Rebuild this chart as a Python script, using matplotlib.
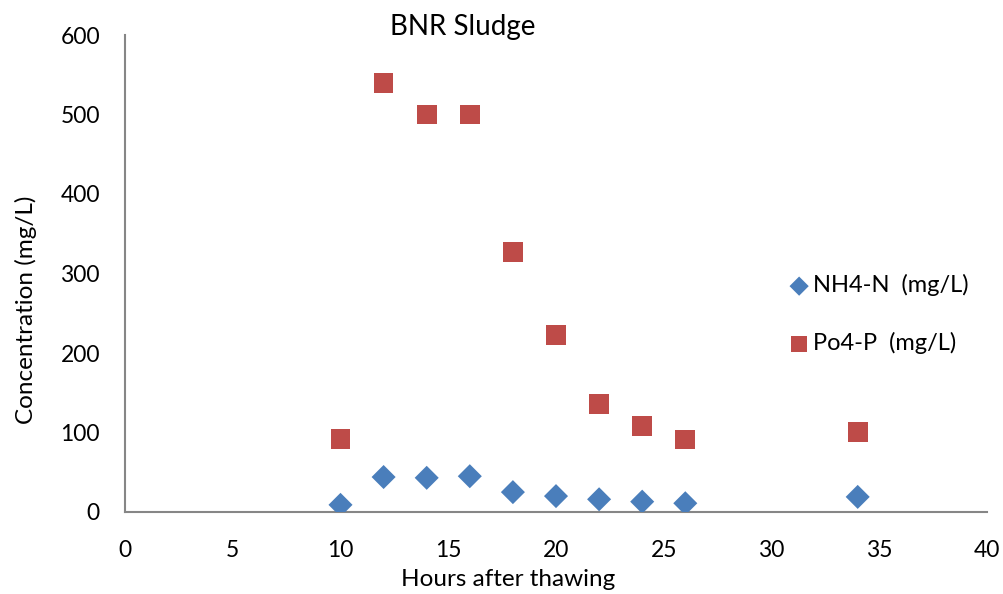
import matplotlib
matplotlib.use('Agg')
import matplotlib.pyplot as plt

plt.rcParams['font.family'] = ['Lato', 'DejaVu Sans']

# 解冻后时间 (h)
hours = [10, 12, 14, 16, 18, 20, 22, 24, 26, 34]
nh4_n = [9, 44, 43, 45, 25, 20, 16, 13, 11, 19]
po4_p = [92, 540, 500, 500, 327, 223, 136, 108, 91, 101]

fig = plt.figure(figsize=(10.04, 5.94), dpi=100)
W, H = 1004, 594
ax = fig.add_axes([125 / W, (H - 512) / H, (987 - 125) / W, (512 - 35) / H])

ax.scatter(hours, nh4_n, marker='D', s=150, color='#4a7ebb', edgecolors='none',
           label='NH4-N  (mg/L)', zorder=3)
ax.scatter(hours, po4_p, marker='s', s=200, color='#be4b48', edgecolors='none',
           label='Po4-P  (mg/L)', zorder=3)

ax.set_xlim(0, 40)
ax.set_ylim(0, 600)
ax.set_xticks(range(0, 41, 5))
ax.set_yticks(range(0, 601, 100))
ax.tick_params(length=0, labelsize=16.5)
ax.tick_params(axis='x', pad=20)
ax.tick_params(axis='y', pad=18)

for s in ['top', 'right']:
    ax.spines[s].set_visible(False)
for s in ['left', 'bottom']:
    ax.spines[s].set_color('#868686')
    ax.spines[s].set_linewidth(1.5)

ax.set_xlabel('Hours after thawing', fontsize=17.5, labelpad=6, x=0.444)
ax.set_ylabel('Concentration (mg/L)', fontsize=17.5, labelpad=17, y=0.423)
fig.text(463 / W, 1 - 27 / H, 'BNR Sludge', fontsize=20, ha='center', va='center')

ax.legend(loc='center left', bbox_to_anchor=(0.73, 0.415), frameon=False,
          fontsize=17, handletextpad=-0.4, labelspacing=1.5, markerscale=0.8)

fig.savefig('out.png', dpi=100)
